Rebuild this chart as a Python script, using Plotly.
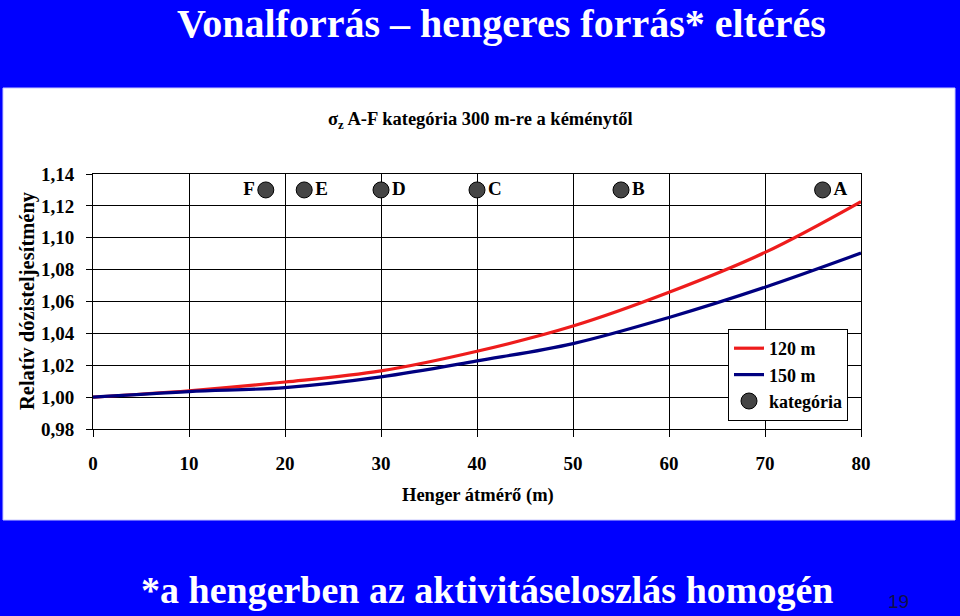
import plotly.graph_objects as go

# ---- data ----
diameter = [0, 10, 20, 30, 40, 50, 60, 70, 80]
rel_120 = [1.000, 1.004, 1.0095, 1.0165, 1.0288, 1.0446, 1.0658, 1.0908, 1.1227]
rel_150 = [1.000, 1.0035, 1.006, 1.0127, 1.0227, 1.0336, 1.050, 1.069, 1.0904]
cat_labels = ["F", "E", "D", "C", "B", "A"]
cat_x = [18, 22, 30, 40, 55, 76]
cat_y = [1.13, 1.13, 1.13, 1.13, 1.13, 1.13]
cat_textpos = ["middle left", "middle right", "middle right", "middle right", "middle right", "middle right"]
x_ticks = [0, 10, 20, 30, 40, 50, 60, 70, 80]
y_ticks = [0.98, 1.00, 1.02, 1.04, 1.06, 1.08, 1.10, 1.12, 1.14]

SERIF = "Liberation Serif"
BLUE_BG = "#0000ff"

fig = go.Figure()
fig.add_trace(go.Scatter(x=diameter, y=rel_120, mode="lines", name="120 m",
                         line=dict(color="#ee1c1c", width=3.2, shape="spline"),
                         legendgroup="a"))
fig.add_trace(go.Scatter(x=diameter, y=rel_150, mode="lines", name="150 m",
                         line=dict(color="#000080", width=3.2, shape="spline"),
                         legendgroup="b"))
fig.add_trace(go.Scatter(x=cat_x, y=cat_y, mode="markers+text", name="kategória",
                         text=cat_labels, textposition=cat_textpos,
                         textfont=dict(family=SERIF, size=19, color="black", weight="bold"),
                         marker=dict(size=16, color="#454545", line=dict(color="black", width=1)),
                         cliponaxis=False, legendgroup="c"))

def px_x(p):
    return (p - 93) / 768.0

def px_y(p):
    return (429 - p) / 255.0

fig.add_shape(type="rect", xref="paper", yref="paper", layer="below",
              x0=px_x(3), x1=px_x(955), y0=px_y(520), y1=px_y(88),
              fillcolor="white", line=dict(color="#c8c8ff", width=1))

annots = [
    dict(text="Vonalforrás – hengeres forrás* eltérés", x=px_x(501), y=px_y(23),
         font=dict(family=SERIF, size=40, color="white", weight="bold")),
    dict(text="σ<sub>z</sub> A-F kategória 300 m-re a kéménytől", x=px_x(480), y=px_y(120),
         font=dict(family=SERIF, size=18.5, color="black", weight="bold")),
    dict(text="Henger átmérő (m)", x=px_x(478), y=px_y(495),
         font=dict(family=SERIF, size=18.5, color="black", weight="bold")),
    dict(text="Relatív dózisteljesítmény", x=px_x(27), y=px_y(301), textangle=-90,
         font=dict(family=SERIF, size=20.5, color="black", weight="bold")),
    dict(text="*a hengerben az aktivitáseloszlás homogén", x=px_x(487), y=px_y(590),
         font=dict(family=SERIF, size=38, color="white", weight="bold")),
    dict(text="19", x=px_x(898), y=px_y(601),
         font=dict(family="Liberation Sans", size=19, color="#10104a")),
]
for a in annots:
    a.update(xref="paper", yref="paper", showarrow=False, xanchor="center", yanchor="middle")
    fig.add_annotation(**a)

fig.update_layout(
    width=960, height=616,
    margin=dict(l=93, r=99, t=174, b=187, autoexpand=False),
    paper_bgcolor=BLUE_BG, plot_bgcolor="white",
    separators=", ",
    font=dict(family=SERIF, size=18, color="black"),
    showlegend=True,
    legend=dict(x=px_x(728), y=px_y(329), xanchor="left", yanchor="top",
                bgcolor="white", bordercolor="black", borderwidth=1,
                font=dict(family=SERIF, size=18, color="black", weight="bold"),
                tracegroupgap=0, itemwidth=30),
)
fig.update_xaxes(range=[0, 80], tickvals=x_ticks, showgrid=True, gridcolor="black", gridwidth=1,
                 showline=True, linecolor="black", linewidth=1, mirror=True,
                 ticks="outside", ticklen=7, tickcolor="black", ticklabelstandoff=10,
                 tickfont=dict(family=SERIF, size=19, color="black", weight="bold"),
                 zeroline=False, fixedrange=True)
fig.update_yaxes(range=[0.98, 1.14], tickvals=y_ticks, tickformat=".2f",
                 showgrid=True, gridcolor="black", gridwidth=1,
                 showline=True, linecolor="black", linewidth=1, mirror=True,
                 ticks="outside", ticklen=6, tickcolor="black", ticklabelstandoff=8,
                 tickfont=dict(family=SERIF, size=19, color="black", weight="bold"),
                 zeroline=False, fixedrange=True)

fig.write_html("out.html", config={"displayModeBar": False},
               post_script="document.body.style.margin='0';document.body.style.background='#0000ff';")
